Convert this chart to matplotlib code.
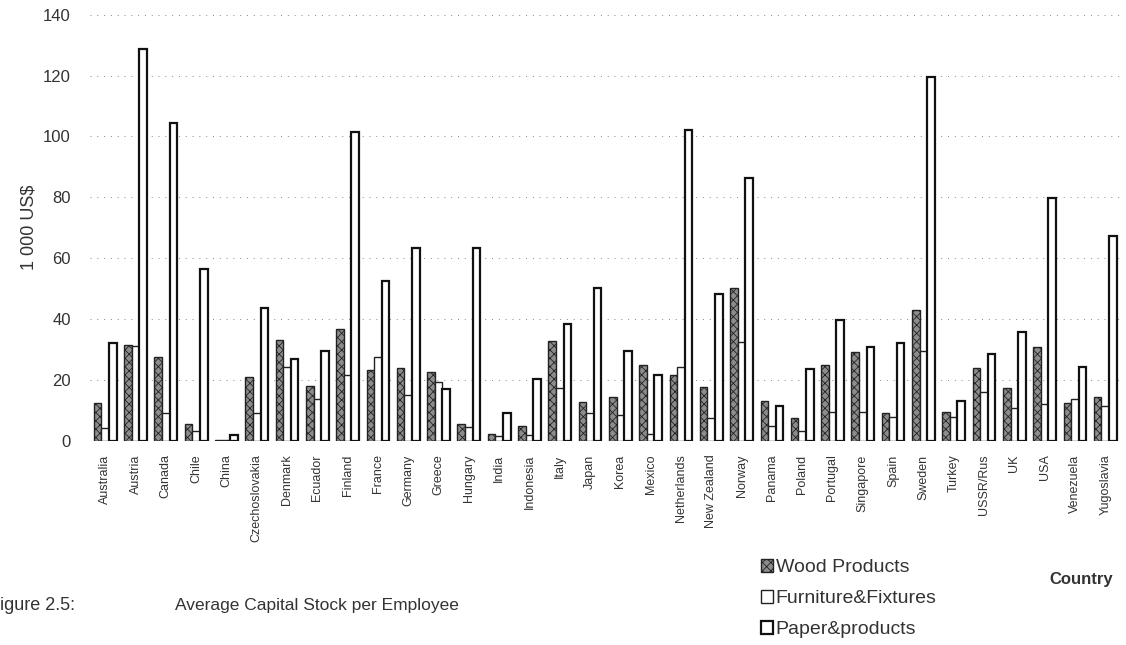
import numpy as np
import matplotlib.pyplot as plt

plt.rcParams['font.family'] = ['Liberation Sans', 'DejaVu Sans']
plt.rcParams['hatch.linewidth'] = 0.6

countries = ['Australia', 'Austria', 'Canada', 'Chile', 'China', 'Czechoslovakia',
             'Denmark', 'Ecuador', 'Finland', 'France', 'Germany', 'Greece',
             'Hungary', 'India', 'Indonesia', 'Italy', 'Japan', 'Korea', 'Mexico',
             'Netherlands', 'New Zealand', 'Norway', 'Panama', 'Poland', 'Portugal',
             'Singapore', 'Spain', 'Sweden', 'Turkey', 'USSR/Rus', 'UK', 'USA',
             'Venezuela', 'Yugoslavia']

wood = [12.3, 31.3, 27.6, 5.4, 0.3, 21.0, 33.1, 18.0, 36.8, 23.2, 23.8, 22.7,
        5.3, 2.1, 4.8, 32.6, 12.8, 14.2, 24.9, 21.6, 17.7, 50.2, 13.0, 7.3,
        24.9, 29.0, 9.2, 43.0, 9.4, 23.8, 17.4, 30.9, 12.5, 14.2]
furniture = [4.0, 31.0, 9.0, 3.0, 0.3, 9.2, 24.1, 13.6, 21.4, 27.6, 15.0, 19.4,
             4.6, 1.5, 1.8, 17.2, 9.0, 8.4, 2.1, 24.1, 7.3, 32.4, 4.8, 3.2,
             9.5, 9.3, 7.9, 29.6, 7.9, 15.8, 10.6, 11.9, 13.6, 11.5]
paper = [32.2, 128.7, 104.5, 56.4, 1.7, 43.6, 26.9, 29.6, 101.4, 52.6, 63.4, 16.9,
         63.4, 9.2, 20.3, 38.4, 50.2, 29.6, 21.6, 102.0, 48.2, 86.2, 11.4, 23.6,
         39.5, 30.7, 32.0, 119.5, 12.9, 28.4, 35.7, 79.9, 24.3, 67.4]

x = np.arange(len(countries))
w = 0.25

fig = plt.figure(figsize=(11.26, 6.45), dpi=100)
ax = fig.add_axes([0.08, 0.317, 0.915, 0.66])

ax.bar(x - w, wood, w, facecolor='#8c8c8c', edgecolor='#222222', hatch='xxxx',
       linewidth=1.0, label='Wood Products')
ax.bar(x, furniture, w, facecolor='white', edgecolor='#222222', linewidth=1.0,
       label='Furniture&Fixtures')
ax.bar(x + w, paper, w, facecolor='white', edgecolor='#111111', linewidth=1.6,
       label='Paper&products')

ax.set_ylim(0, 140)
ax.set_xlim(-0.5, len(countries) - 0.5)
ax.set_yticks(range(0, 141, 20))
# faint dotted grid, as in the scan
ax.yaxis.grid(True, linestyle=(0, (1, 6)), color='#888888', linewidth=0.7)
ax.set_axisbelow(True)
for s in ax.spines.values():
    s.set_visible(False)
ax.tick_params(axis='both', length=0, colors='#333333')
ax.tick_params(axis='y', labelsize=12, pad=14)

ax.set_xticks(x)
ax.set_xticklabels(countries, rotation=90, fontsize=9, color='#333333')
ax.tick_params(axis='x', pad=10)

ax.set_ylabel('1 000 US$', fontsize=13, color='#333333', labelpad=4)

fig.legend(loc='upper left', bbox_to_anchor=(0.676, 0.133), frameon=False,
           fontsize=14, handlelength=0.6, handleheight=0.6, handletextpad=0.15,
           labelspacing=0.72, labelcolor='#333333', borderpad=0, borderaxespad=0)

fig.text(0.932, 0.102, 'Country', fontsize=12, color='#333333',
         weight='bold', ha='left', va='center')
fig.text(-0.0095, 0.062, 'Figure 2.5:', fontsize=13, color='#333333',
         ha='left', va='center')
fig.text(0.155, 0.062, 'Average Capital Stock per Employee', fontsize=12.5,
         color='#333333', ha='left', va='center')

fig.savefig('out.png', dpi=100)
